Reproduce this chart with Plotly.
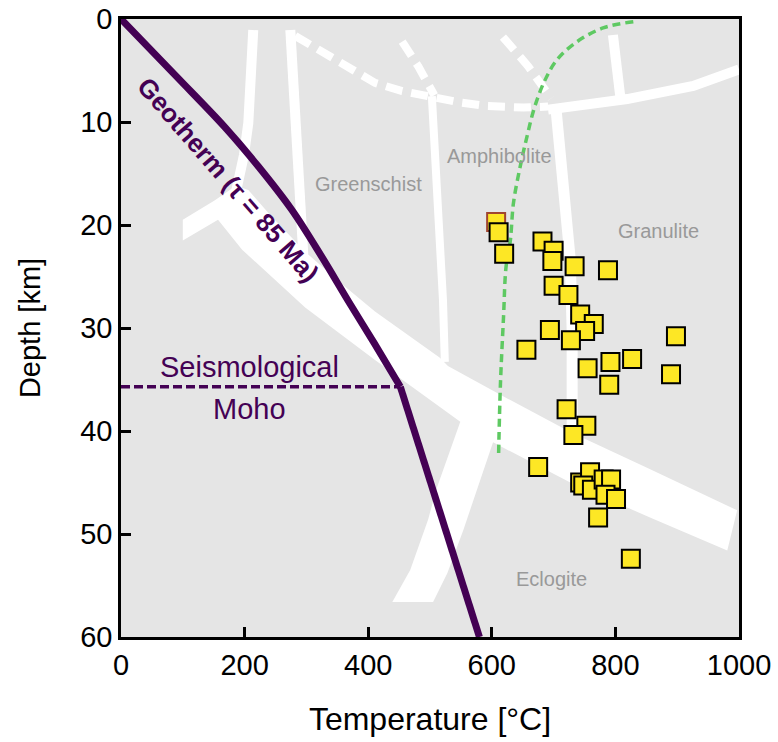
import plotly.graph_objects as go

# ---------------- data (Temperature [°C], Depth [km]) ----------------
sample_T = [607, 611, 620, 682, 700, 698, 734, 788, 700, 724, 743, 765, 751, 694, 728, 656,
            898, 755, 792, 827, 790, 890, 721, 753, 732, 675, 743, 759, 748, 762, 781, 793,
            784, 801, 772, 825]
sample_D = [19.7, 20.7, 22.8, 21.6, 22.5, 23.5, 24.0, 24.4, 25.9, 26.8, 28.7, 29.6, 30.3, 30.2,
            31.2, 32.1, 30.8, 33.9, 33.3, 33.0, 35.5, 34.5, 37.9, 39.5, 40.4, 43.5, 45.0, 44.0,
            45.3, 45.7, 44.7, 44.7, 46.2, 46.6, 48.4, 52.4]

geotherm_T = [0, 90, 168, 222, 276, 325, 368, 410, 452, 580]
geotherm_D = [0, 5.6, 10.5, 14.3, 18.5, 23.1, 27.4, 31.5, 35.7, 60]
moho_index = 8  # geotherm point at the Moho

moho_T = [0, 452]
moho_D = [35.7, 35.7]

green_T = [829, 780, 738, 705, 684, 668, 657, 646, 635, 630, 623, 619, 614, 611]
green_D = [0.26, 0.87, 2.2, 4.0, 6.2, 8.8, 11.4, 14.3, 17.9, 21.5, 24.1, 28.9, 35.4, 42.3]

# facies boundaries (wide bands as polygons, narrow ones as lines)
band_T = [100, 152, 186, 206, 241, 298, 355, 411, 516, 529, 630, 727, 852, 997,
          981, 856, 727, 602, 549, 411, 298, 196, 157, 128, 100]
band_D = [19.5, 17.6, 16.2, 16.6, 19.0, 22.6, 25.6, 28.4, 32.9, 33.7, 37.0, 40.1, 43.6, 47.7,
          51.6, 48.4, 45.0, 41.1, 39.1, 33.1, 28.0, 22.4, 19.5, 20.5, 21.5]
xband_T = [562, 614, 602, 581, 554, 528, 505, 439, 468, 497, 510, 549]
xband_D = [38.7, 40.1, 41.1, 44.8, 49.6, 53.8, 56.6, 56.6, 53.5, 48.6, 45.7, 39.1]

l1_T = [214, 210, 206, 199, 193, 186]
l1_D = [1.07, 5.9, 10.1, 13.2, 15.6, 16.8]
l2_T = [274, 280, 285, 290, 295]
l2_D = [1.07, 7.9, 13.7, 18.5, 22.9]
l3_T = [503, 513, 521, 524]
l3_D = [7.5, 17.6, 27.3, 33.3]
l4_T = [796, 808]
l4_D = [1.55, 7.6]
l5_T = [704, 715, 727, 730, 730]
l5_D = [8.8, 15.6, 23.4, 30.2, 40.9]
h_T = [691, 759, 819, 926, 1000]
h_D = [8.8, 8.25, 7.77, 6.5, 4.9]

d1_T = [282, 322, 363, 411, 455, 505, 549, 593, 651, 691]
d1_D = [1.65, 3.0, 4.5, 6.2, 7.0, 7.6, 8.1, 8.45, 8.6, 8.5]
d2_T = [455, 481, 507]
d2_D = [2.2, 4.6, 7.4]
d3_T = [618, 659, 696]
d3_D = [1.75, 4.6, 7.7]

facies_labels = ["Greenschist", "Amphibolite", "Granulite", "Eclogite"]
facies_T = [400, 612, 869, 697]
facies_D = [16.0, 13.3, 20.6, 54.4]

x_ticks = [0, 200, 400, 600, 800, 1000]
y_ticks = [0, 10, 20, 30, 40, 50, 60]

PURPLE = "#440154"
GREEN = "#5ec962"
YELLOW = "#fde725"
FONT = "Liberation Sans, Arial, Helvetica, sans-serif"

fig = go.Figure()

# white facies fields
for tx, dy in [(band_T, band_D), (xband_T, xband_D)]:
    fig.add_trace(go.Scatter(x=tx, y=dy, mode="lines", fill="toself", fillcolor="white",
                             line=dict(width=0, color="white"), hoverinfo="skip", showlegend=False))
for tx, dy, w in [(l1_T, l1_D, 10), (l2_T, l2_D, 10), (l3_T, l3_D, 8), (l4_T, l4_D, 10),
                  (l5_T, l5_D, 11), (h_T, h_D, 10)]:
    fig.add_trace(go.Scatter(x=tx, y=dy, mode="lines", line=dict(width=w, color="white"),
                             hoverinfo="skip", showlegend=False))
for tx, dy in [(d1_T, d1_D), (d2_T, d2_D), (d3_T, d3_D)]:
    fig.add_trace(go.Scatter(x=tx, y=dy, mode="lines",
                             line=dict(width=8, color="white", dash="17px,9px"),
                             hoverinfo="skip", showlegend=False))

# green dashed curve
fig.add_trace(go.Scatter(x=green_T, y=green_D, mode="lines", line_shape="spline",
                         line=dict(width=3.5, color=GREEN, dash="8px,5px"), showlegend=False))

# Moho & geotherm (smooth crustal part, straight mantle part)
fig.add_trace(go.Scatter(x=moho_T, y=moho_D, mode="lines",
                         line=dict(width=3.5, color=PURPLE, dash="9px,4px"), showlegend=False))
fig.add_trace(go.Scatter(x=geotherm_T[:moho_index + 1], y=geotherm_D[:moho_index + 1],
                         mode="lines", line_shape="spline",
                         line=dict(width=7, color=PURPLE), showlegend=False))
fig.add_trace(go.Scatter(x=geotherm_T[moho_index:], y=geotherm_D[moho_index:], mode="lines",
                         line=dict(width=7, color=PURPLE), showlegend=False))

# samples
line_cols = ["#a0452f"] + ["black"] * (len(sample_T) - 1)
fig.add_trace(go.Scatter(x=sample_T, y=sample_D, mode="markers",
                         marker=dict(symbol="square", size=18, color=YELLOW,
                                     line=dict(width=2, color=line_cols)),
                         showlegend=False))

ann = []
for lab, tx, dy in zip(facies_labels, facies_T, facies_D):
    ann.append(dict(x=tx, y=dy, text=lab, showarrow=False, xref="x", yref="y",
                    font=dict(family=FONT, size=20, color="#999999")))
ann.append(dict(x=174, y=15.6, text="<b>Geotherm (τ = 85 Ma)</b>", showarrow=False,
                textangle=49, xref="x", yref="y",
                font=dict(family=FONT, size=26, color=PURPLE)))
ann.append(dict(x=208, y=33.8, text="Seismological", showarrow=False, xref="x", yref="y",
                font=dict(family=FONT, size=29, color=PURPLE)))
ann.append(dict(x=208, y=37.9, text="Moho", showarrow=False, xref="x", yref="y",
                font=dict(family=FONT, size=29, color=PURPLE)))

axis_common = dict(showgrid=False, zeroline=False, showline=True, linecolor="black",
                   linewidth=2.5, mirror=True, ticks="inside", ticklen=10, tickwidth=2.5,
                   tickcolor="black", automargin=False,
                   tickfont=dict(family=FONT, size=29, color="black"))

fig.update_layout(
    width=778, height=742,
    margin=dict(l=121, r=39, t=19, b=105),
    paper_bgcolor="white", plot_bgcolor="#e5e5e5",
    annotations=ann,
    xaxis=dict(range=[0, 1000], tickvals=x_ticks,
               title=dict(text="Temperature [°C]", standoff=29,
                          font=dict(family=FONT, size=32, color="black")),
               **axis_common),
    yaxis=dict(range=[60, 0], tickvals=y_ticks,
               title=dict(text="Depth [km]", standoff=32,
                          font=dict(family=FONT, size=29, color="black")),
               **axis_common),
)

fig.write_html("out.html")
